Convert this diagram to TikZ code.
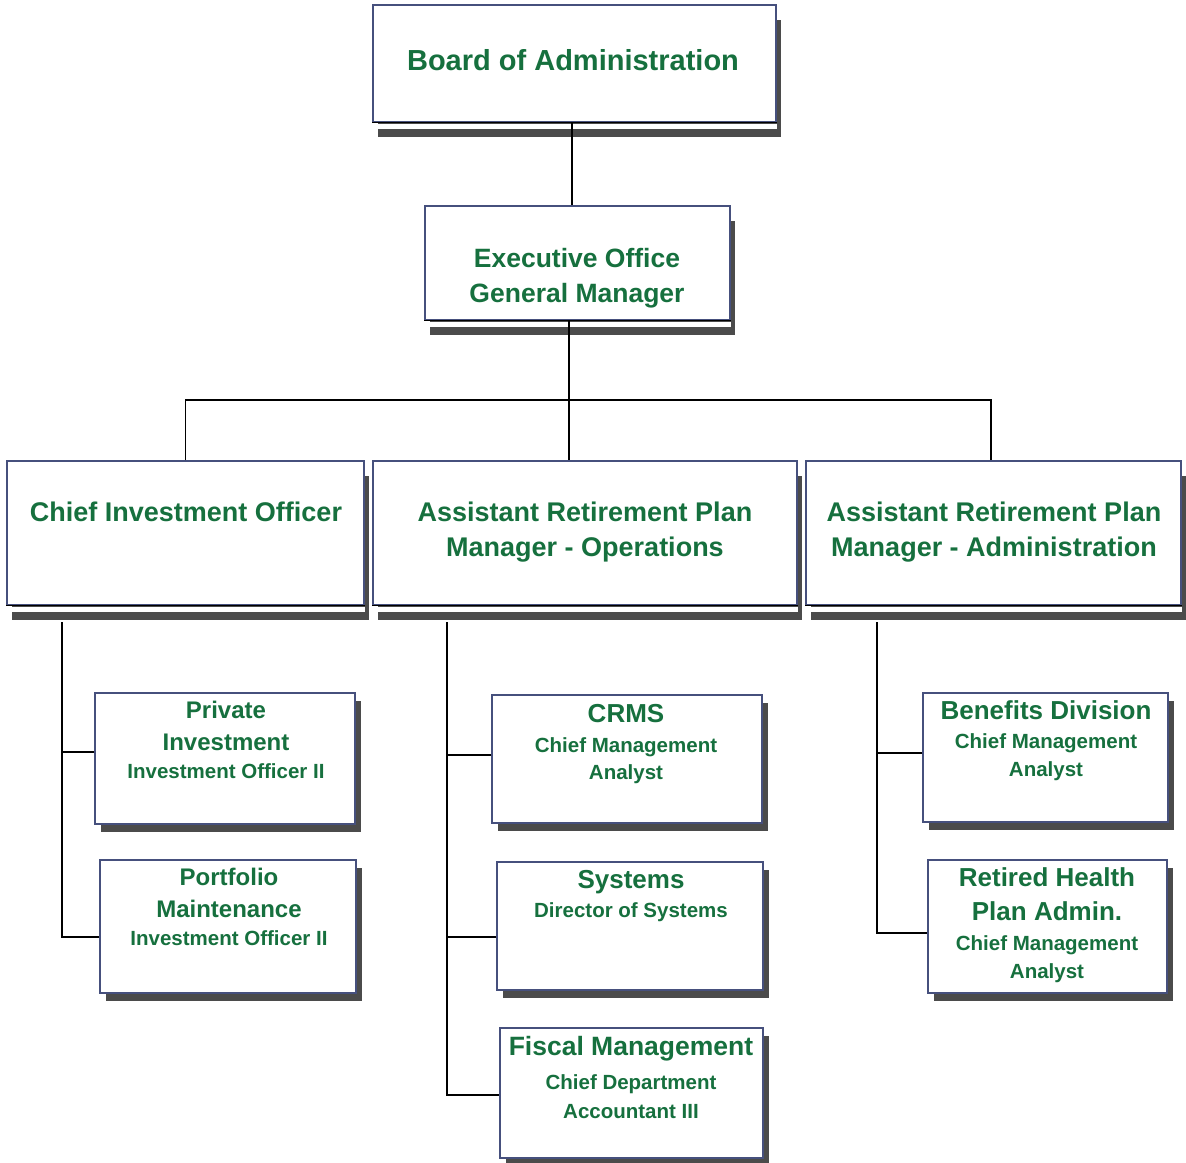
\documentclass[tikz,border=0pt]{standalone}
\usepackage{fontspec}
\setmainfont{Liberation Sans}
\usetikzlibrary{shadows}
\definecolor{orggreen}{RGB}{22,112,62}
\definecolor{boxedge}{RGB}{70,80,125}
\definecolor{shade}{RGB}{75,75,75}
% one line of text: name, x, baseline y, size, text
\newcommand{\orgline}[5]{\node[lbl, font={\fontsize{#4}{#4}\selectfont\bfseries}] (#1) at (#2,#3) {#5};}
\begin{document}
\begin{tikzpicture}[x=1pt,y=-1pt,
  orgbox/.style={draw=boxedge, line width=1.1pt, fill=white, inner sep=0pt,
    drop shadow={shadow xshift=6pt, shadow yshift=-8pt, opacity=1, fill=shade}},
  bigbox/.style={draw=boxedge, line width=1.1pt, fill=white, inner sep=0pt,
    drop shadow={shadow xshift=5pt, shadow yshift=-15pt, opacity=1, fill=shade}},
  lbl/.style={text=orggreen, anchor=base, inner sep=0pt},
  link/.style={draw=black, line width=1.9pt}]
\useasboundingbox (0,0) rectangle (1186,1162);
\fill[white] (0,0) rectangle (1186,1162);

% ---- boxes ----
\node[bigbox, minimum width=403pt, minimum height=117pt] (board) at (574.5,63.5) {};
\node[bigbox, minimum width=305pt, minimum height=114pt] (exec) at (577.5,263) {};
\node[bigbox, minimum width=357pt, minimum height=144pt] (cio) at (185.5,533) {};
\node[bigbox, minimum width=424pt, minimum height=144pt] (ops) at (585,533) {};
\node[bigbox, minimum width=375pt, minimum height=144pt] (adm) at (993.5,533) {};

\node[orgbox, minimum width=260pt, minimum height=131pt] (priv) at (225,758.5) {};
\node[orgbox, minimum width=256pt, minimum height=133pt] (port) at (228,926.5) {};
\node[orgbox, minimum width=270pt, minimum height=128pt] (crms) at (627,759) {};
\node[orgbox, minimum width=266pt, minimum height=128pt] (sys) at (630,926) {};
\node[orgbox, minimum width=263pt, minimum height=130pt] (fisc) at (631.5,1093) {};
\node[orgbox, minimum width=245pt, minimum height=129pt] (ben) at (1045.5,757.5) {};
\node[orgbox, minimum width=239pt, minimum height=133pt] (ret) at (1047.5,926.5) {};

% heavy bottom rule and light gap on the large boxes
\foreach \b in {board,exec,cio,ops,adm}{
  \fill[white] ([yshift=-1pt]\b.south west) rectangle ([yshift=-6pt]\b.south east);
  \draw[black, line width=1.8pt] (\b.south west) -- (\b.south east);
}

% ---- connectors ----
\coordinate (bus) at (569,400);
\coordinate (cioTop) at (62,622);
\coordinate (opsTop) at (447,622);
\coordinate (admTop) at (877,622);

\draw[link] ([xshift=-2.5pt]board.south) -- ([xshift=-5.5pt]exec.north);
\draw[link] ([xshift=-8.5pt]exec.south) -- ([xshift=-16pt]ops.north);
\draw[link] (cio.north) |- (bus) -| ([xshift=-2.5pt]adm.north);

\draw[link] (cioTop) |- ([yshift=-10.5pt]port.west);
\draw[link] ([yshift=6.5pt]priv.west) -- ([yshift=6.5pt]priv.west -| cioTop);

\draw[link] (opsTop) |- ([yshift=-2pt]fisc.west);
\draw[link] ([yshift=4pt]crms.west) -- ([yshift=4pt]crms.west -| opsTop);
\draw[link] ([yshift=-11pt]sys.west) -- ([yshift=-11pt]sys.west -| opsTop);

\draw[link] (admTop) |- ([yshift=-6.5pt]ret.west);
\draw[link] ([yshift=4.5pt]ben.west) -- ([yshift=4.5pt]ben.west -| admTop);

% ---- texts ----
\orgline{boardA}{573}{70.4}{29}{Board of Administration}
\orgline{execA}{577}{267.4}{26.5}{Executive Office}
\orgline{execB}{577}{302.4}{26.5}{General Manager}
\orgline{cioA}{186}{521.7}{27}{Chief Investment Officer}
\orgline{opsA}{585}{521.7}{27}{Assistant Retirement Plan}
\orgline{opsB}{585}{556.7}{27}{Manager - Operations}
\orgline{admA}{994}{521.7}{27}{Assistant Retirement Plan}
\orgline{admB}{994}{556.7}{27}{Manager - Administration}

\orgline{privA}{226}{718.6}{24}{Private}
\orgline{privB}{226}{750.6}{24}{Investment}
\orgline{privC}{226}{778.2}{20.5}{Investment Officer II}
\orgline{portA}{229}{885.6}{24}{Portfolio}
\orgline{portB}{229}{917.6}{24}{Maintenance}
\orgline{portC}{229}{945.2}{20.5}{Investment Officer II}

\orgline{crmsA}{626}{722.4}{26}{CRMS}
\orgline{crmsB}{626}{752.2}{20.5}{Chief Management}
\orgline{crmsC}{626}{779.2}{20.5}{Analyst}
\orgline{sysA}{631}{888.4}{26}{Systems}
\orgline{sysB}{631}{917.2}{20.5}{Director of Systems}
\orgline{fiscA}{631}{1055.5}{26.5}{Fiscal Management}
\orgline{fiscB}{631}{1089.4}{20.5}{Chief Department}
\orgline{fiscC}{631}{1118.4}{20.5}{Accountant III}

\orgline{benA}{1046}{719.4}{26}{Benefits Division}
\orgline{benB}{1046}{748.2}{20.5}{Chief Management}
\orgline{benC}{1046}{776.2}{20.5}{Analyst}
\orgline{retA}{1047}{886.4}{26}{Retired Health}
\orgline{retB}{1047}{920.4}{26}{Plan Admin.}
\orgline{retC}{1047}{950.2}{20.5}{Chief Management}
\orgline{retD}{1047}{978.2}{20.5}{Analyst}
\end{tikzpicture}
\end{document}
